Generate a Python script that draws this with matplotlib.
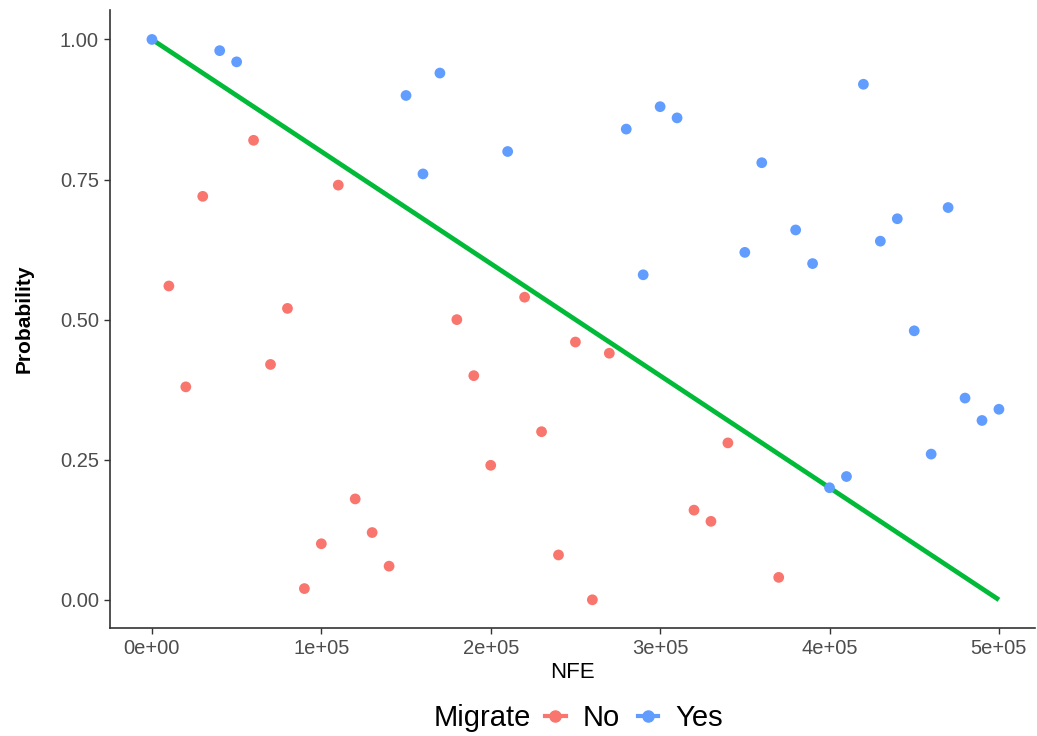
import matplotlib.pyplot as plt
from matplotlib.lines import Line2D
from matplotlib.offsetbox import HPacker

plt.rcParams['font.family'] = ['Liberation Sans', 'DejaVu Sans']

# NFE / Probability, split by Migrate
no_nfe = [1e4, 2e4, 3e4, 6e4, 7e4, 8e4, 9e4, 1e5, 1.1e5, 1.2e5, 1.3e5, 1.4e5,
          1.8e5, 1.9e5, 2.0e5, 2.2e5, 2.3e5, 2.4e5, 2.5e5, 2.6e5, 2.7e5,
          3.2e5, 3.3e5, 3.4e5, 3.7e5]
no_prob = [0.56, 0.38, 0.72, 0.82, 0.42, 0.52, 0.02, 0.10, 0.74, 0.18, 0.12, 0.06,
           0.50, 0.40, 0.24, 0.54, 0.30, 0.08, 0.46, 0.00, 0.44,
           0.16, 0.14, 0.28, 0.04]

yes_nfe = [0, 4e4, 5e4, 1.5e5, 1.6e5, 1.7e5, 2.1e5, 2.8e5, 2.9e5, 3.0e5, 3.1e5,
           3.5e5, 3.6e5, 3.8e5, 3.9e5, 4.0e5, 4.1e5, 4.2e5, 4.3e5, 4.4e5,
           4.5e5, 4.6e5, 4.7e5, 4.8e5, 4.9e5, 5.0e5]
yes_prob = [1.00, 0.98, 0.96, 0.90, 0.76, 0.94, 0.80, 0.84, 0.58, 0.88, 0.86,
            0.62, 0.78, 0.66, 0.60, 0.20, 0.22, 0.92, 0.64, 0.68,
            0.48, 0.26, 0.70, 0.36, 0.32, 0.34]

line_nfe = [0, 5e5]
line_prob = [1.0, 0.0]

red = '#F8766D'
blue = '#619CFF'
green = '#00BA38'

fig = plt.figure(figsize=(10.37, 7.36), dpi=100)
ax = fig.add_axes([0.106, 0.147, 0.892, 0.839])

ax.plot(line_nfe, line_prob, color=green, lw=3.4, zorder=2, solid_capstyle='butt')
ax.scatter(no_nfe, no_prob, s=60, color=red, edgecolors='none', zorder=3)
ax.scatter(yes_nfe, yes_prob, s=60, color=blue, edgecolors='none', zorder=3)

ax.set_xlim(-24800, 521250)
ax.set_ylim(-0.05, 1.052)
ax.set_xticks([0, 1e5, 2e5, 3e5, 4e5, 5e5])
ax.set_xticklabels(['0e+00', '1e+05', '2e+05', '3e+05', '4e+05', '5e+05'])
ax.set_yticks([0, 0.25, 0.5, 0.75, 1.0])
ax.set_yticklabels(['0.00', '0.25', '0.50', '0.75', '1.00'])

for s in ['top', 'right']:
    ax.spines[s].set_visible(False)
for s in ['left', 'bottom']:
    ax.spines[s].set_color('#333333')
    ax.spines[s].set_linewidth(1.2)
ax.tick_params(colors='#4D4D4D', labelsize=14.5, length=4, width=1, pad=4)
ax.tick_params(axis='both', color='#333333')

ax.set_xlabel('NFE', fontsize=16, color='black', labelpad=3)
ax.set_ylabel('Probability', fontsize=15, fontweight='bold', color='black', labelpad=19)

handles = [Line2D([], [], color=red, marker='o', markersize=8, lw=3),
           Line2D([], [], color=blue, marker='o', markersize=8, lw=3)]
leg = fig.legend(handles, ['No', 'Yes'], title='Migrate', loc='center',
                 bbox_to_anchor=(0.558, 0.024), ncol=2, frameon=False, fontsize=21,
                 title_fontsize=21, handlelength=0.7, handletextpad=0.6,
                 columnspacing=0.6)
# put title on the same row as entries
box = leg._legend_box
box._children = [HPacker(children=[box._children[0], box._children[1]],
                         align='center', pad=0, sep=10)]

fig.savefig('out.png', dpi=100)
